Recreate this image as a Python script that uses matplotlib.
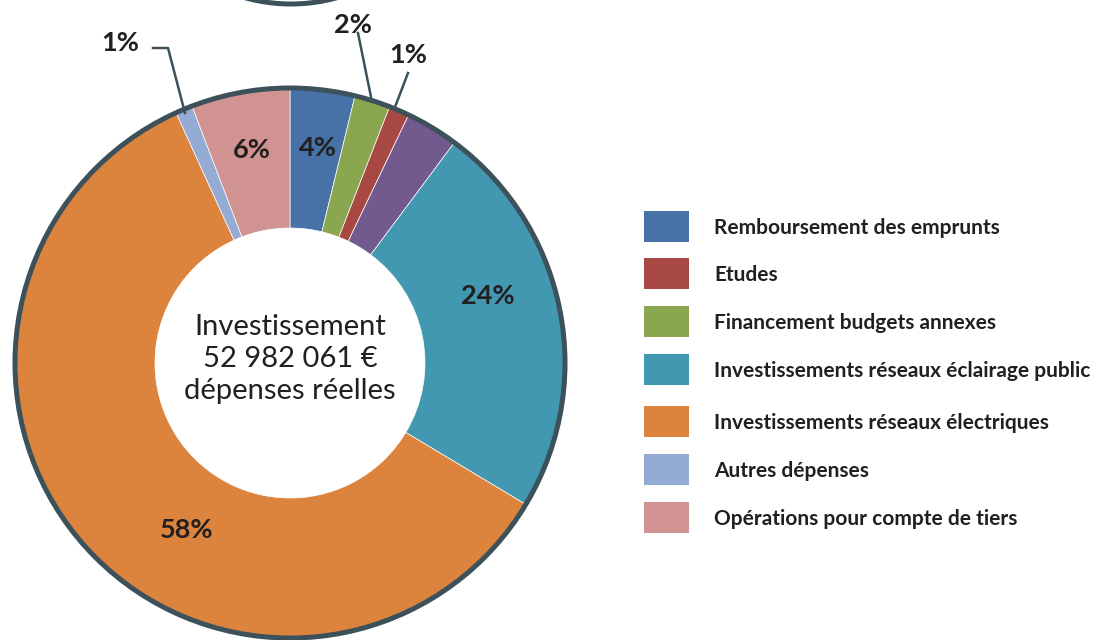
import matplotlib.pyplot as plt
from matplotlib.patches import Circle, Rectangle

# slices, clockwise from the top
slice_names = [
    "Remboursement des emprunts",
    "Financement budgets annexes",
    "Etudes",
    "",
    "Investissements réseaux éclairage public",
    "Investissements réseaux électriques",
    "Autres dépenses",
    "Opérations pour compte de tiers",
]
slice_values = [3.8, 2.1, 1.2, 3.1, 23.4, 59.6, 1.0, 5.8]
slice_labels = ["4%", "2%", "1%", "", "24%", "58%", "1%", "6%"]
slice_colors = ["#4672a8", "#8aa64e", "#a84843", "#725a8f",
                "#4298b0", "#dc843e", "#94abd3", "#d09392"]

legend_names = [
    "Remboursement des emprunts",
    "Etudes",
    "Financement budgets annexes",
    "Investissements réseaux éclairage public",
    "Investissements réseaux électriques",
    "Autres dépenses",
    "Opérations pour compte de tiers",
]

center_text = "Investissement\n52 982 061 €\ndépenses réelles"

W, H = 1095, 640
dark = "#3d515b"
txt = "#231f20"
plt.rcParams['font.family'] = ['Lato', 'DejaVu Sans']

fig = plt.figure(figsize=(W / 100, H / 100), dpi=100)
ax = fig.add_axes([0, 0, 1, 1])


def py(y):
    # pixel row -> data y
    return H - y


cx, cy, R = 290, py(363), 275
ax.pie(slice_values, colors=slice_colors, startangle=90, counterclock=False,
       radius=R, center=(cx, cy),
       wedgeprops=dict(width=140, edgecolor="white", linewidth=0.5))
ax.add_patch(Circle((cx, cy), R, fill=False, ec=dark, lw=3.6))
# bit of another shape cut off at the top
ax.add_patch(Circle((291, py(-167)), 171, fill=False, ec=dark, lw=3.6))

ax.set_xlim(0, W)
ax.set_ylim(0, H)
ax.set_aspect("equal")
ax.axis("off")

# labels inside the ring
inside = {"6%": (252, 150), "4%": (318, 148), "24%": (488, 296), "58%": (187, 530)}
for lab, (x, y) in inside.items():
    ax.text(x, py(y), lab, ha="center", va="center", fontsize=19.5,
            fontweight="bold", color=txt)

# small slices with leader lines
outside = [
    ("1%", (120, 43), [(153, 48), (168, 48), (185, 113)]),
    ("2%", (353, 25), [(358, 33), (371, 97)]),
    ("1%", (408, 55), [(408, 73), (395, 107)]),
]
for lab, (x, y), pts in outside:
    ax.text(x, py(y), lab, ha="center", va="center", fontsize=19.5,
            fontweight="bold", color=txt)
    ax.plot([p[0] for p in pts], [py(p[1]) for p in pts], color=dark, lw=1.8)

ax.text(cx, py(359), center_text, ha="center", va="center", fontsize=21,
        color=txt, linespacing=1.3)

# legend
row_y = [226, 273, 321, 369, 421, 469, 517]
for name, y in zip(legend_names, row_y):
    col = slice_colors[slice_names.index(name)]
    ax.add_patch(Rectangle((644, py(y) - 15.5), 45, 31, color=col, lw=0))
    ax.text(714, py(y + 2), name, ha="left", va="center", fontsize=15,
            fontweight="bold", color=txt)

fig.savefig("out.png", dpi=100)
